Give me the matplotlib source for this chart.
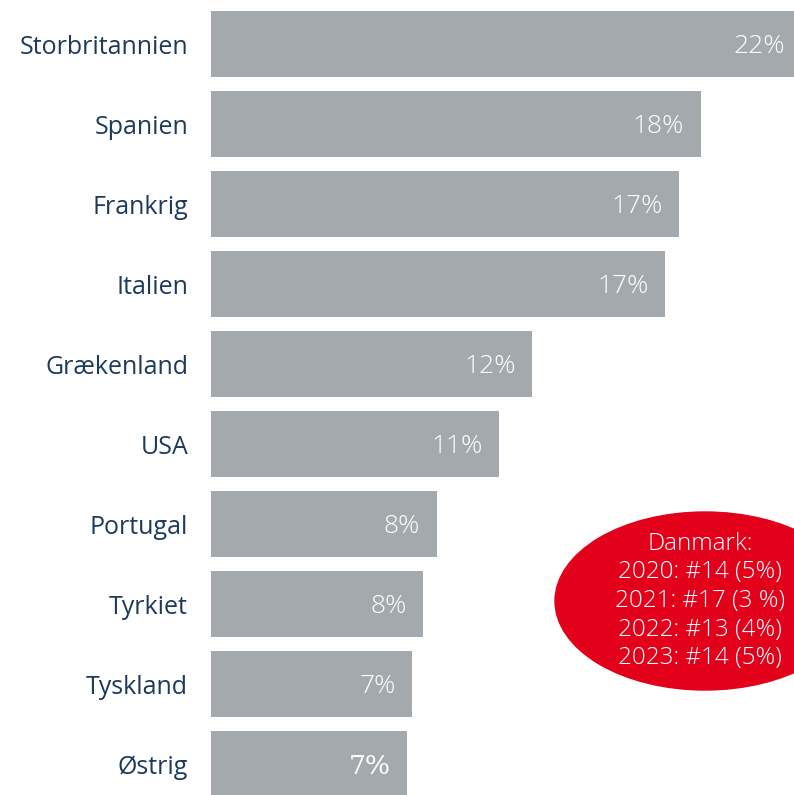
# Rejsemål – andel af svar, vandret søjlediagram

import matplotlib
matplotlib.use('Agg')
import matplotlib.pyplot as plt
from matplotlib.patches import Ellipse

lande = ['Storbritannien', 'Spanien', 'Frankrig', 'Italien', 'Grækenland',
         'USA', 'Portugal', 'Tyrkiet', 'Tyskland', 'Østrig']
andel = [21.7, 18.0, 17.2, 16.7, 11.8, 10.6, 8.3, 7.8, 7.4, 7.2]
danmark_linjer = ['Danmark:', '2020: #14 (5%)', '2021: #17 (3 %)',
                  '2022: #13 (4%)', '2023: #14 (5%)']

plt.rcParams['font.family'] = ['Open Sans', 'DejaVu Sans']

fig = plt.figure(figsize=(7.94, 7.95), dpi=100)
ax = fig.add_axes([211 / 794, 0, 583 / 794, 1])

pos = list(range(len(lande)))
ax.barh(pos, andel, height=0.825, color='#a3a9ac')
ax.set_ylim(9.3875, -0.55)
ax.set_xlim(0, 21.43)

ax.set_yticks(pos, lande)
ax.tick_params(axis='y', length=0, pad=16.5, labelsize=18, labelcolor='#1c3a5c')
ax.set_xticks([])
for s in ax.spines.values():
    s.set_visible(False)

# procenttal inde i søjlerne
for i, v in enumerate(andel):
    fam = ['DejaVu Serif'] if i == len(andel) - 1 else ['Open Sans', 'DejaVu Sans']
    ax.annotate(f'{v:.0f}%', xy=(v, i), xytext=(-11.9, -1.5), textcoords='offset points',
                ha='right', va='center', color='white', fontsize=19,
                fontweight='light', family=fam, annotation_clip=False)

# rød boble med Danmarks placering
boble = Ellipse((705 / 794, 1 - 601 / 795), 300 / 794, 178 / 795,
                transform=fig.transFigure, color='#e3001b', zorder=5)
fig.patches.append(boble)
fig.text(700 / 794, 1 - 601 / 795, '\n'.join(danmark_linjer), ha='center', va='center',
         color='white', fontsize=17.5, fontweight='light', linespacing=1.25, zorder=6)

fig.savefig('out.png', dpi=100)
